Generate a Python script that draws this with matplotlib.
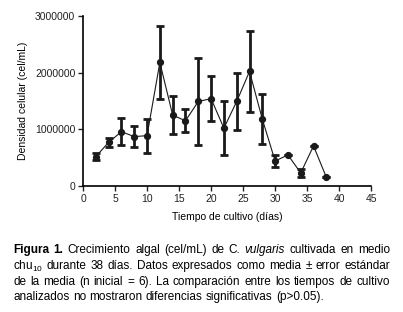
import matplotlib
matplotlib.use("Agg")
import matplotlib.pyplot as plt

plt.rcParams['font.family'] = ['Liberation Sans', 'DejaVu Sans']
plt.rcParams['mathtext.fontset'] = 'custom'
plt.rcParams['mathtext.rm'] = 'Liberation Sans'

# data
dias = [2, 4, 6, 8, 10, 12, 14, 16, 18, 20, 22, 24, 26, 28, 30, 32, 34, 36, 38]
densidad = [517000, 770000, 958000, 870000, 888000, 2180000, 1250000, 1150000,
            1490000, 1540000, 1020000, 1490000, 2020000, 1180000, 440000,
            547000, 230000, 706000, 153000]
error = [65000, 80000, 240000, 190000, 300000, 645000, 340000, 200000,
         760000, 400000, 470000, 500000, 710000, 440000, 100000,
         0, 70000, 0, 0]

x_ticks = [0, 5, 10, 15, 20, 25, 30, 35, 40, 45]
y_ticks = [0, 1000000, 2000000, 3000000]

caption = [
    [("Figura", "bold"), ("1.", "bold"), ("Crecimiento", "normal"), ("algal", "normal"),
     ("(cel/mL)", "normal"), ("de", "normal"), ("C.", "normal"), ("vulgaris", "italic"),
     ("cultivada", "normal"), ("en", "normal"), ("medio", "normal")],
    "chu$_{10}$ durante 38 días. Datos expresados como media ± error estándar",
    "de la media (n inicial = 6). La comparación entre los tiempos de cultivo",
    "analizados no mostraron diferencias significativas (p>0.05).",
]

fig = plt.figure(figsize=(4.03, 3.12), dpi=100)
ax = fig.add_axes([0.206, 0.404, 0.715, 0.545])

ax.errorbar(dias, densidad, yerr=error, fmt='o-', color='#1a1a1a', ms=4.2,
            lw=0.8, elinewidth=2, capsize=3, capthick=2)

ax.set_xlim(0, 45)
ax.set_ylim(0, 3000000)
ax.set_xticks(x_ticks)
ax.set_yticks(y_ticks)
ax.set_yticklabels([str(v) for v in y_ticks])
ax.tick_params(labelsize=7.5, colors='#222222', length=3.5, width=1, pad=2)
for s in ['top', 'right']:
    ax.spines[s].set_visible(False)
for s in ['left', 'bottom']:
    ax.spines[s].set_linewidth(1.2)
ax.set_ylabel('Densidad celular (cel/mL)', fontsize=7.5, labelpad=5)
ax.set_xlabel('Tiempo de cultivo (días)', fontsize=7.5, labelpad=6)

# justified caption, word by word
fig.canvas.draw()
renderer = fig.canvas.get_renderer()
x_left, x_right = 13 / 403, 390 / 403
y_lines = [250, 266, 282, 297]
fs = 8.5
for i, line in enumerate(caption):
    if isinstance(line, str):
        words = [(w, "normal") for w in line.split(" ")]
    else:
        words = line
    y = 1 - y_lines[i] / 312
    texts = []
    for w, style in words:
        kw = {}
        if style == "bold":
            kw['fontweight'] = 'bold'
        if style == "italic":
            kw['fontstyle'] = 'italic'
        t = fig.text(0, y, w, fontsize=fs, va='center', ha='left', **kw)
        texts.append(t)
    widths = [t.get_window_extent(renderer).width / fig.bbox.width for t in texts]
    last = i == len(caption) - 1
    if last:
        gap = 0.0085
    else:
        gap = (x_right - x_left - sum(widths)) / (len(texts) - 1)
    x = x_left
    for t, wdt in zip(texts, widths):
        t.set_x(x)
        x += wdt + gap

fig.savefig('out.png', dpi=100)
